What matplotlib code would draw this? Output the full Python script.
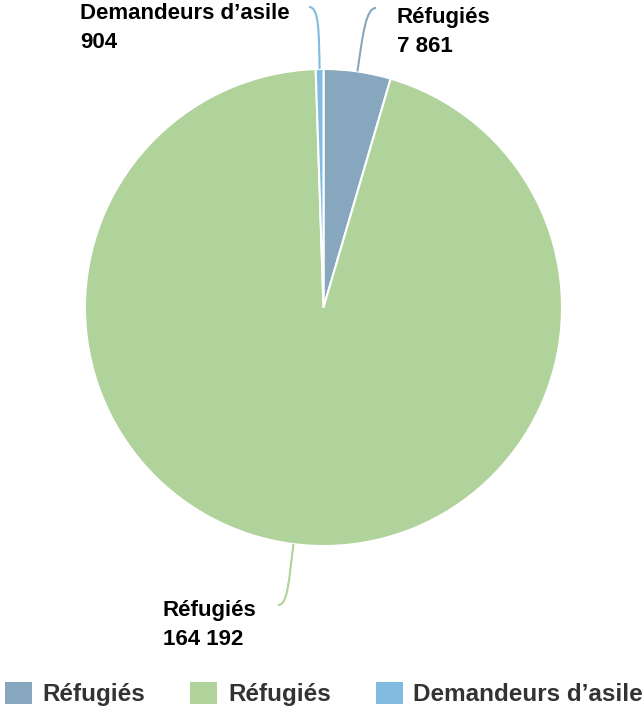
import matplotlib.pyplot as plt
import numpy as np
from matplotlib.path import Path
from matplotlib.patches import PathPatch, Patch

plt.rcParams['font.family'] = ['Liberation Sans', 'DejaVu Sans']

labels = ["Réfugiés", "Réfugiés", "Demandeurs d’asile"]
values = [7861, 164192, 904]
value_text = ["7 861", "164 192", "904"]
colors = ["#86a7bd", "#b0d29b", "#82bbe0"]

W, H = 643, 710
fig = plt.figure(figsize=(W / 100, H / 100), dpi=100)
ax = fig.add_axes([0, 0, 1, 1])

cx, cy, r = 323.5, H - 307.5, 238.5
wedges, _ = ax.pie(values, colors=colors, startangle=90, counterclock=False,
                   center=(cx, cy), radius=r,
                   wedgeprops=dict(edgecolor="white", linewidth=1.5))
ax.set_xlim(0, W)
ax.set_ylim(0, H)
ax.set_aspect("equal")
ax.axis("off")

# leader line end points and label baselines (pixels, y down)
ends = [(376, 8), (278, 605), (309, 7)]
label_pos = [(397, 23), (163, 616), (80, 19)]

for w, col, end, lp, name, vt in zip(wedges, colors, ends, label_pos,
                                      labels, value_text):
    mid = np.deg2rad((w.theta1 + w.theta2) / 2)
    dx, dy = np.cos(mid), np.sin(mid)
    p0 = (cx + r * dx, cy + r * dy)
    p3 = (end[0], H - end[1])
    sgn = 1 if p3[0] > p0[0] else -1
    p1 = (p0[0] + (p3[1] - p0[1]) * dx / dy * 0.6, p0[1] + (p3[1] - p0[1]) * 0.6)
    p2 = (p3[0] - sgn * 10, p3[1])
    path = Path([p0, p1, p2, p3], [Path.MOVETO, Path.CURVE4, Path.CURVE4, Path.CURVE4])
    ax.add_patch(PathPatch(path, facecolor="none", edgecolor=col, linewidth=1.5))
    ax.text(lp[0], H - lp[1], name, ha="left", va="baseline",
            fontsize=16, fontweight="bold", color="black")
    ax.text(lp[0], H - lp[1] - 29, vt, ha="left", va="baseline",
            fontsize=16, fontweight="bold", color="black")

handles = [Patch(facecolor=c, edgecolor="none") for c in colors]
fig.legend(handles, labels, loc="lower left", bbox_to_anchor=(5 / W, 4 / H),
           ncol=3, frameon=False,
           prop=dict(weight="bold", size=17.5),
           handlelength=1.1, handleheight=1.0, handletextpad=0.45,
           columnspacing=1.85, borderpad=0, borderaxespad=0, labelcolor="#333333")

fig.savefig("out.png", dpi=100)
